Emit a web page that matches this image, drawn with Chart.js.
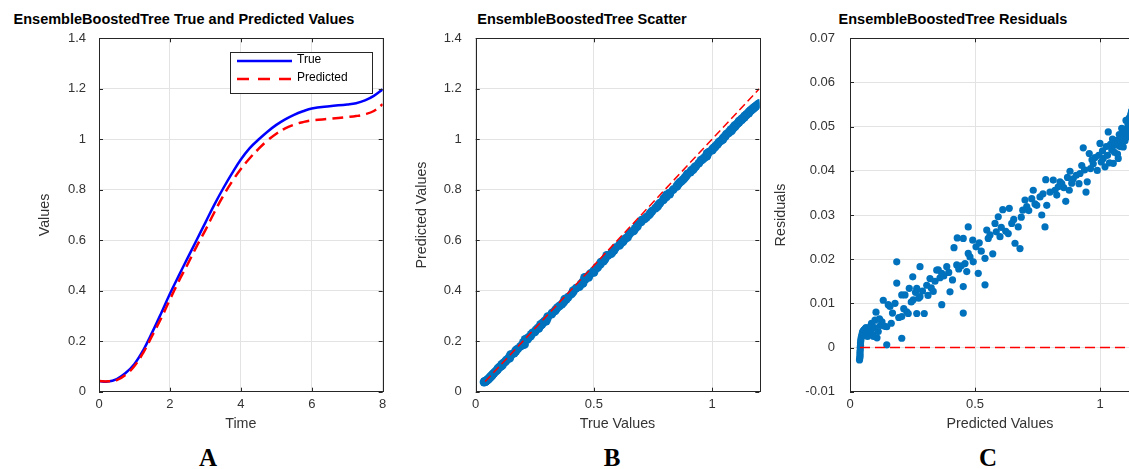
<!DOCTYPE html>
<html>
<head>
<meta charset="utf-8">
<script src="https://cdn.jsdelivr.net/npm/chart.js@4.4.1/dist/chart.umd.min.js"></script>
<style>
    html, body { margin: 0; padding: 0; background: #fff; overflow: hidden; }
    #wrap { position: relative; width: 1129px; height: 469px; overflow: hidden; }
    canvas { position: absolute; top: 0; }
    .titulo { position: absolute; font: bold 14.5px "Liberation Sans", Arial, sans-serif; color: #000; white-space: nowrap; transform: translate(-50%, -50%); }
    .letra { position: absolute; font: bold 25px "Liberation Serif", "Times New Roman", serif; color: #000; transform: translate(-50%, -50%); }
</style>
</head>
<body>
<div id="wrap">
    <div class="titulo" style="left:184px; top:19px;">EnsembleBoostedTree True and Predicted Values</div>
    <div class="titulo" style="left:582px; top:19px;">EnsembleBoostedTree Scatter</div>
    <div class="titulo" style="left:953px; top:19px;">EnsembleBoostedTree Residuals</div>
    <canvas id="graficoA" width="400" height="440" style="left:0px; width:400px; height:440px;"></canvas>
    <canvas id="graficoB" width="370" height="440" style="left:400px; width:370px; height:440px;"></canvas>
    <canvas id="graficoC" width="420" height="440" style="left:760px; width:420px; height:440px;"></canvas>
    <div class="letra" style="left:208px; top:458px;">A</div>
    <div class="letra" style="left:612px; top:458px;">B</div>
    <div class="letra" style="left:988px; top:458px;">C</div>
</div>
<script>
// Panel A: serie temporal
const time = [0, 0.25, 0.5, 0.75, 1, 1.25, 1.5, 1.75, 2, 2.25, 2.5, 2.75, 3, 3.25, 3.5, 3.75, 4, 4.25, 4.5, 4.75, 5, 5.25, 5.5, 5.75, 6, 6.5, 7, 7.25, 7.5, 7.75, 8];
const trueValues = [0.042, 0.040, 0.050, 0.074, 0.110, 0.165, 0.235, 0.310, 0.388, 0.460, 0.530, 0.600, 0.670, 0.740, 0.805, 0.865, 0.920, 0.965, 0.999, 1.030, 1.057, 1.079, 1.097, 1.111, 1.122, 1.131, 1.138, 1.143, 1.154, 1.172, 1.198];
const predictedValues = [0.042, 0.041, 0.046, 0.067, 0.102, 0.155, 0.222, 0.290, 0.365, 0.438, 0.505, 0.575, 0.640, 0.710, 0.775, 0.832, 0.882, 0.925, 0.962, 0.995, 1.022, 1.043, 1.058, 1.068, 1.075, 1.081, 1.088, 1.092, 1.099, 1.112, 1.139];

// Panel C: residuos (x = valor predicho, y = residuo); panel B usa verdadero = predicho + residuo
const residualPredicted = [
    0.038, 0.039, 0.040, 0.040, 0.040, 0.041, 0.041, 0.042, 0.042, 0.043, 0.044, 0.046, 0.048, 0.050, 0.053, 0.056, 0.060, 0.064, 0.058, 0.062,
    0.067, 0.070, 0.074, 0.078, 0.082, 0.086, 0.090, 0.094, 0.098, 0.100, 0.104, 0.108, 0.113, 0.118, 0.122, 0.128, 0.133, 0.138, 0.147, 0.147,
    0.153, 0.160, 0.165, 0.170, 0.180, 0.187, 0.187, 0.195, 0.207, 0.207, 0.207, 0.215, 0.220, 0.227, 0.233, 0.237, 0.245, 0.251, 0.253, 0.262,
    0.267, 0.267, 0.275, 0.280, 0.280, 0.290, 0.297, 0.307, 0.312, 0.320, 0.325, 0.333, 0.340, 0.347, 0.353, 0.360, 0.367, 0.367, 0.375, 0.387,
    0.395, 0.400, 0.410, 0.416, 0.427, 0.429, 0.435, 0.445, 0.453, 0.453, 0.453, 0.460, 0.467, 0.473, 0.473, 0.480, 0.491, 0.493, 0.504, 0.513,
    0.517, 0.525, 0.540, 0.540, 0.547, 0.553, 0.560, 0.571, 0.580, 0.585, 0.593, 0.600, 0.605, 0.611, 0.623, 0.633, 0.637, 0.647, 0.655, 0.660,
    0.673, 0.680, 0.685, 0.691, 0.700, 0.707, 0.715, 0.727, 0.733, 0.740, 0.747, 0.760, 0.767, 0.772, 0.780, 0.783, 0.787, 0.800, 0.813, 0.820,
    0.827, 0.833, 0.840, 0.847, 0.855, 0.863, 0.870, 0.877, 0.880, 0.887, 0.893, 0.905, 0.916, 0.920, 0.927, 0.933, 0.938, 0.944, 0.949, 0.957,
    0.962, 0.968, 0.973, 0.980, 0.989, 0.995, 1.000, 1.005, 1.010, 1.013, 1.020, 1.025, 1.030, 1.033, 1.038, 1.042, 1.047, 1.050, 1.053, 1.058,
    1.062, 1.067, 1.070, 1.073, 1.077, 1.080, 1.083, 1.087, 1.090, 1.093, 1.097, 1.100, 1.104, 1.106, 1.109, 1.112, 1.115, 1.117, 1.120, 1.123,
    1.126, 1.130, 1.133, 1.136, 1.140, 1.142
];
const residuals = [
    -0.0028, -0.0024, -0.0020, -0.0015, -0.0010, -0.0005, 0.0000, 0.0005, 0.0010, 0.0015, 0.0020, 0.0025, 0.0030, 0.0035, 0.0038, 0.0040, 0.0042, 0.0045, 0.0028, 0.0032,
    0.0035, 0.0025, 0.0030, 0.0038, 0.0048, 0.0055, 0.0030, 0.0025, 0.0045, 0.0062, 0.0080, 0.0022, 0.0036, 0.0065, 0.0050, 0.0058, 0.0107, 0.0048, 0.0006, 0.0047,
    0.0097, 0.0093, 0.0055, 0.0078, 0.0100, 0.0194, 0.0146, 0.0068, 0.0021, 0.0070, 0.0119, 0.0088, 0.0119, 0.0081, 0.0077, 0.0134, 0.0103, 0.0160, 0.0108, 0.0125,
    0.0077, 0.0134, 0.0112, 0.0183, 0.0115, 0.0128, 0.0077, 0.0141, 0.0118, 0.0156, 0.0135, 0.0127, 0.0150, 0.0175, 0.0176, 0.0158, 0.0097, 0.0168, 0.0162, 0.0183,
    0.0170, 0.0126, 0.0153, 0.0226, 0.0187, 0.0248, 0.0178, 0.0185, 0.0078, 0.0138, 0.0247, 0.0190, 0.0172, 0.0213, 0.0273, 0.0205, 0.0243, 0.0194, 0.0228, 0.0168,
    0.0237, 0.0218, 0.0142, 0.0202, 0.0266, 0.0247, 0.0255, 0.0212, 0.0281, 0.0262, 0.0296, 0.0251, 0.0272, 0.0312, 0.0263, 0.0258, 0.0315, 0.0281, 0.0290, 0.0236,
    0.0273, 0.0224, 0.0295, 0.0311, 0.0334, 0.0319, 0.0310, 0.0337, 0.0356, 0.0325, 0.0322, 0.0341, 0.0300, 0.0348, 0.0273, 0.0380, 0.0322, 0.0352, 0.0379, 0.0356,
    0.0345, 0.0364, 0.0375, 0.0371, 0.0362, 0.0331, 0.0385, 0.0356, 0.0399, 0.0372, 0.0382, 0.0390, 0.0371, 0.0394, 0.0412, 0.0452, 0.0402, 0.0352, 0.0375, 0.0439,
    0.0405, 0.0425, 0.0416, 0.0430, 0.0401, 0.0435, 0.0462, 0.0420, 0.0445, 0.0428, 0.0409, 0.0455, 0.0435, 0.0488, 0.0418, 0.0460, 0.0447, 0.0472, 0.0417, 0.0442,
    0.0458, 0.0469, 0.0438, 0.0428, 0.0482, 0.0455, 0.0465, 0.0496, 0.0475, 0.0454, 0.0488, 0.0468, 0.0514, 0.0495, 0.0477, 0.0505, 0.0490, 0.0520, 0.0510, 0.0528,
    0.0535, 0.0545, 0.0555, 0.0565, 0.0580, 0.0595
];

// Líneas de referencia
const idealLineX = [0.04, 1.2];
const zeroLineX = [0.04, 1.14];

const FUENTE = '"Liberation Sans", Arial, sans-serif';
const COLOR_TEXTO = '#333333';
const COLOR_GRID = '#e3e3e3';
const AZUL_MARCA = '#0072BD';

// Dibuja la caja de ejes y las marcas hacia adentro (estilo MATLAB)
const cajaPlugin = {
    id: 'caja',
    afterDatasetsDraw(chart) {
        const { ctx, chartArea: a, scales } = chart;
        ctx.save();
        ctx.strokeStyle = '#262626';
        ctx.lineWidth = 1;
        const len = 4;
        ctx.beginPath();
        scales.x.ticks.forEach(t => {
            const px = Math.round(scales.x.getPixelForValue(t.value)) + 0.5;
            ctx.moveTo(px, a.bottom); ctx.lineTo(px, a.bottom - len);
            ctx.moveTo(px, a.top); ctx.lineTo(px, a.top + len);
        });
        scales.y.ticks.forEach(t => {
            const py = Math.round(scales.y.getPixelForValue(t.value)) + 0.5;
            ctx.moveTo(a.left, py); ctx.lineTo(a.left + len, py);
            ctx.moveTo(a.right, py); ctx.lineTo(a.right - len, py);
        });
        ctx.stroke();
        ctx.strokeRect(Math.round(a.left) + 0.5, Math.round(a.top) + 0.5, Math.round(a.right - a.left), Math.round(a.bottom - a.top));
        ctx.restore();
    }
};

// Leyenda dentro del panel A
const leyendaPlugin = {
    id: 'leyendaA',
    afterDraw(chart) {
        const ctx = chart.ctx;
        ctx.save();
        ctx.fillStyle = '#fff';
        ctx.fillRect(230.5, 52.5, 142, 41);
        ctx.strokeStyle = '#262626';
        ctx.lineWidth = 1;
        ctx.strokeRect(230.5, 52.5, 142, 41);
        chart.data.datasets.forEach((ds, i) => {
            const y = i === 0 ? 61 : 79;
            ctx.strokeStyle = ds.borderColor;
            ctx.lineWidth = 2.5;
            ctx.setLineDash(i === 0 ? [] : [12, 9]);
            ctx.beginPath();
            ctx.moveTo(237, y);
            ctx.lineTo(292, y);
            ctx.stroke();
            ctx.setLineDash([]);
            ctx.fillStyle = '#000';
            ctx.font = '12px ' + FUENTE;
            ctx.textBaseline = 'middle';
            ctx.fillText(ds.label, 297, y - 1);
        });
        ctx.restore();
    }
};

function fijarTamano(size) {
    return function (scale) {
        if (scale.isHorizontal()) scale.height = size; else scale.width = size;
    };
}

function soloMediaUnidad(scale) {
    scale.ticks = scale.ticks.filter(t => Math.abs(t.value * 2 - Math.round(t.value * 2)) < 1e-9);
}

function formato(v) {
    return String(Number(v.toFixed(3)));
}

function ejes(cfg) {
    return {
        x: {
            type: 'linear', min: cfg.xmin, max: cfg.xmax,
            afterFit: fijarTamano(48.3),
            afterBuildTicks: cfg.filtroX || undefined,
            grid: { color: COLOR_GRID, drawTicks: false },
            border: { display: false },
            ticks: { stepSize: cfg.xstep, padding: 4.5, color: COLOR_TEXTO, font: { family: FUENTE, size: 13, lineHeight: 1.2 }, callback: formato, maxRotation: 0 },
            title: { display: true, text: cfg.xtitle, color: COLOR_TEXTO, font: { family: FUENTE, size: 14.3, lineHeight: 1.2 }, padding: { top: 0, bottom: 7.4 } }
        },
        y: {
            type: 'linear', min: cfg.ymin, max: cfg.ymax,
            afterFit: fijarTamano(cfg.ywidth),
            grid: { color: COLOR_GRID, drawTicks: false },
            border: { display: false },
            ticks: { stepSize: cfg.ystep, padding: cfg.ypad, color: COLOR_TEXTO, font: { family: FUENTE, size: 13, lineHeight: 1.2 }, callback: formato },
            title: { display: true, text: cfg.ytitle, color: COLOR_TEXTO, font: { family: FUENTE, size: 14.3, lineHeight: 1.2 }, padding: { top: cfg.ytitlePad, bottom: 0 } }
        }
    };
}

function opcionesBase(paddingRight, escalas) {
    return {
        responsive: false,
        animation: false,
        devicePixelRatio: 1,
        layout: { padding: { top: 38.3, right: paddingRight, left: 0, bottom: 0 } },
        plugins: { legend: { display: false }, tooltip: { enabled: false }, title: { display: false } },
        scales: escalas
    };
}

// Panel A
new Chart(document.getElementById('graficoA'), {
    type: 'scatter',
    data: {
        datasets: [
            {
                label: 'True', order: 1,
                data: time.map((t, i) => ({ x: t, y: trueValues[i] })),
                showLine: true, borderColor: '#0000FF', borderWidth: 2.5, pointRadius: 0,
                tension: 0.4
            },
            {
                label: 'Predicted', order: 0,
                data: time.map((t, i) => ({ x: t, y: predictedValues[i] })),
                showLine: true, borderColor: '#FF0000', borderWidth: 2.5, borderDash: [11, 6], pointRadius: 0,
                tension: 0.4
            }
        ]
    },
    options: opcionesBase(17.3, ejes({
        xmin: 0, xmax: 8, xstep: 2, xtitle: 'Time',
        ymin: 0, ymax: 1.4, ystep: 0.2, ytitle: 'Values',
        ywidth: 99, ypad: 13, ytitlePad: 36.4
    })),
    plugins: [cajaPlugin, leyendaPlugin]
});

// Panel B
new Chart(document.getElementById('graficoB'), {
    type: 'scatter',
    data: {
        datasets: [
            {
                label: 'Ideal', order: 0,
                data: idealLineX.map(v => ({ x: v, y: v })),
                showLine: true, borderColor: '#FF0000', borderWidth: 1.5, borderDash: [8, 4], pointRadius: 0
            },
            {
                label: 'Scatter', order: 1,
                data: residualPredicted.map((p, i) => ({ x: p + residuals[i], y: p })),
                pointRadius: 4.4, pointBackgroundColor: AZUL_MARCA, pointBorderWidth: 0
            }
        ]
    },
    options: opcionesBase(10.7, ejes({
        xmin: 0, xmax: 1.2, xstep: 0.5, xtitle: 'True Values', filtroX: soloMediaUnidad,
        ymin: 0, ymax: 1.4, ystep: 0.2, ytitle: 'Predicted Values',
        ywidth: 75.7, ypad: 14, ytitlePad: 13.1
    })),
    plugins: [cajaPlugin]
});

// Panel C
new Chart(document.getElementById('graficoC'), {
    type: 'scatter',
    data: {
        datasets: [
            {
                label: 'Cero', order: 0,
                data: zeroLineX.map(v => ({ x: v, y: 0 })),
                showLine: true, borderColor: '#FF0000', borderWidth: 1.5, borderDash: [10, 5], pointRadius: 0
            },
            {
                label: 'Residuals', order: 1,
                data: residualPredicted.map((p, i) => ({ x: p, y: residuals[i] })),
                pointRadius: 3.6, pointBackgroundColor: AZUL_MARCA, pointBorderWidth: 0
            }
        ]
    },
    options: opcionesBase(30, ejes({
        xmin: 0, xmax: 1.2, xstep: 0.5, xtitle: 'Predicted Values', filtroX: soloMediaUnidad,
        ymin: -0.01, ymax: 0.07, ystep: 0.01, ytitle: 'Residuals',
        ywidth: 90, ypad: 15, ytitlePad: 12.1
    })),
    plugins: [cajaPlugin]
});
</script>
</body>
</html>
